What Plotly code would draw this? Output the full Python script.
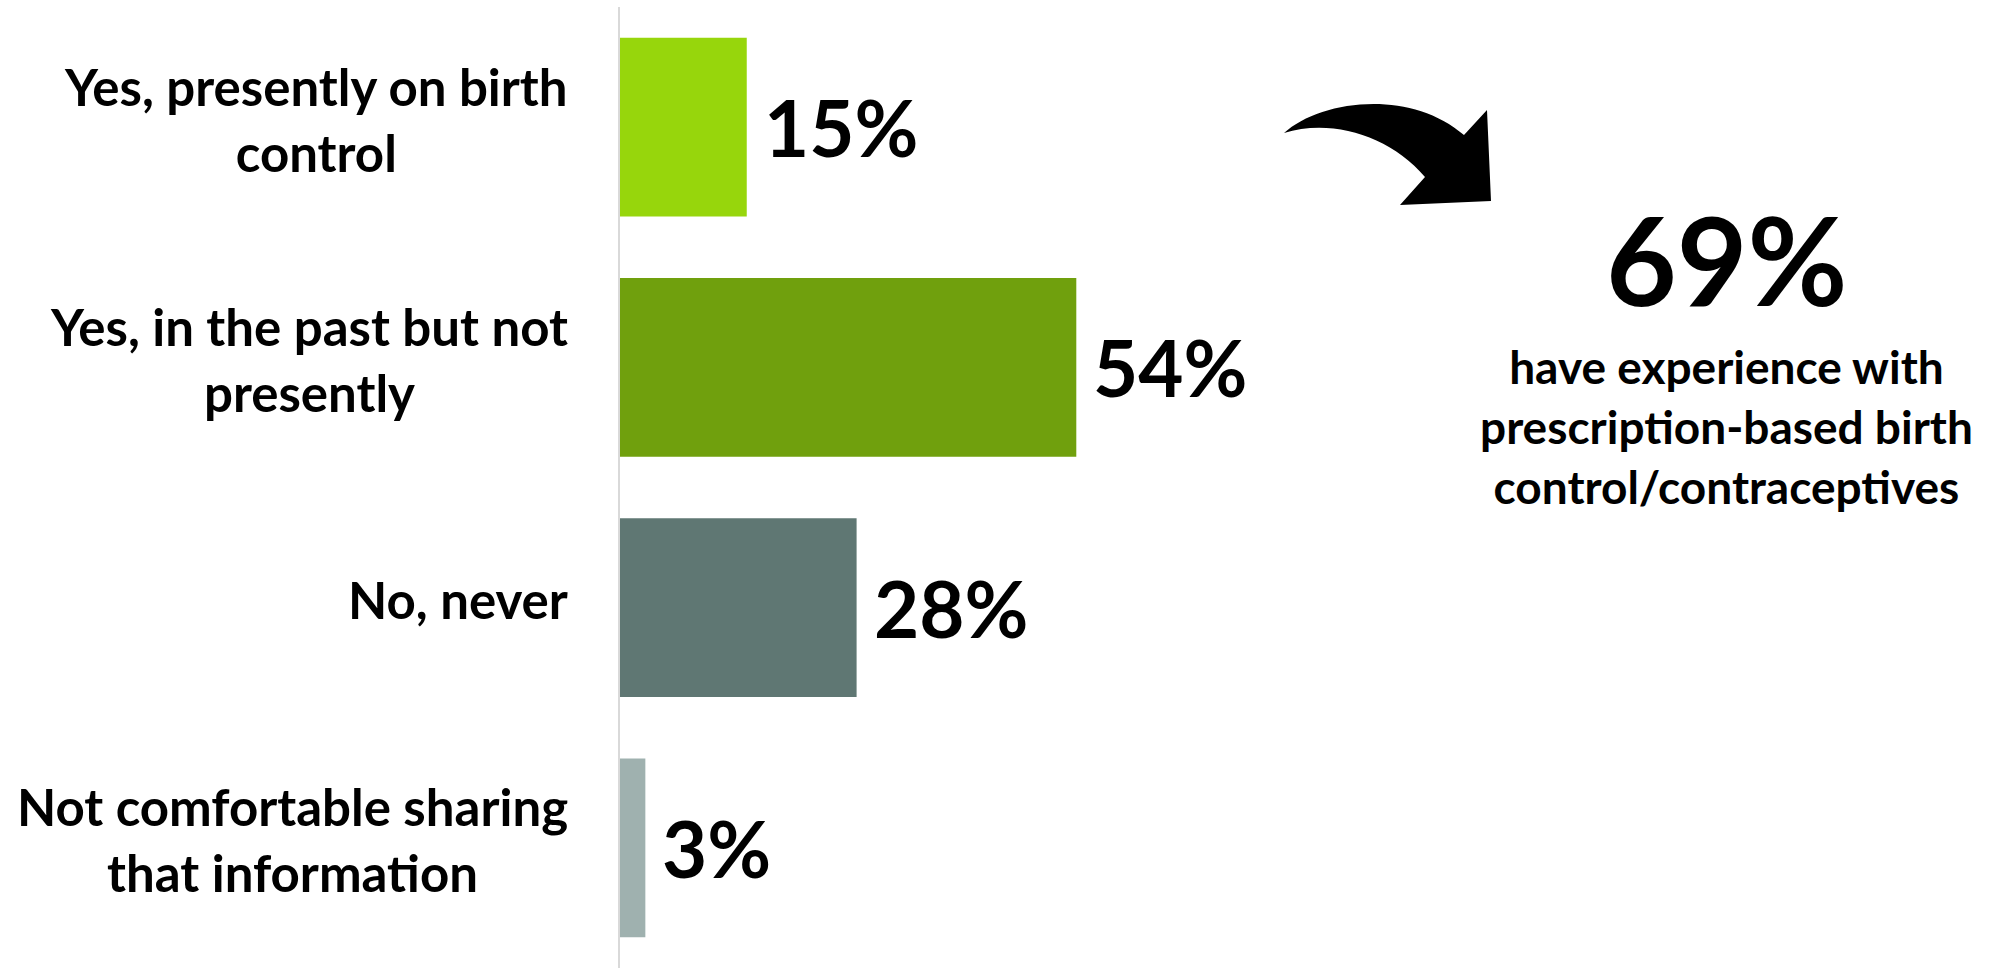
import plotly.graph_objects as go

# ---- data ----
categories = ["Yes, presently on birth control", "Yes, in the past but not presently",
              "No, never", "Not comfortable sharing that information"]
tick_labels = ["Yes, presently on birth<br>control", "Yes, in the past but not<br>presently",
               "No, never", "Not comfortable sharing<br>that information"]
values = [15, 54, 28, 3]
value_labels = ["15%", "54%", "28%", "3%"]
bar_colors = ["#97D60C", "#70A00D", "#5F7773", "#9FB1AF"]
callout_value = "69%"
callout_lines = ["have experience with", "prescription-based birth", "control/contraceptives"]

W, H = 2013, 968
ML, MR, MT, MB = 620, 0, 7, 0
PW, PH = W - ML - MR, H - MT - MB
PX_PER_PCT = 8.45
FONT = "Lato"
WEIGHT = 700


def px(x):
    return (x - ML) / PW


def py(y):
    return 1 - (y - MT) / PH


fig = go.Figure()
fig.add_trace(go.Bar(
    y=categories, x=values, orientation="h",
    marker=dict(color=bar_colors, line=dict(width=0)),
    hoverinfo="skip", showlegend=False,
))

annotations = []
# category labels
for cat, lab in zip(categories, tick_labels):
    annotations.append(dict(
        x=px(570), xref="paper", y=cat, yref="y", text=lab, showarrow=False,
        xanchor="right", yanchor="middle", align="center", yshift=8,
        font=dict(family=FONT, size=51, color="#000000", weight=WEIGHT),
    ))
# value labels
for cat, v, lab in zip(categories, values, value_labels):
    annotations.append(dict(
        x=v, xref="x", y=cat, yref="y", text=lab, showarrow=False,
        xanchor="left", yanchor="middle", xshift=15,
        font=dict(family=FONT, size=78, color="#000000", weight=WEIGHT),
    ))
# callout
annotations.append(dict(
    x=px(1727), xref="paper", y=py(259), yref="paper", text=callout_value, showarrow=False,
    xanchor="center", yanchor="middle",
    font=dict(family=FONT, size=122, color="#000000", weight=WEIGHT),
))
annotations.append(dict(
    x=px(1726), xref="paper", y=py(426), yref="paper", text="<br>".join(callout_lines),
    showarrow=False, xanchor="center", yanchor="middle", align="center",
    font=dict(family=FONT, size=46, color="#000000", weight=WEIGHT),
))


def P(x, y):
    return f"{px(x):.5f},{py(y):.5f}"


arrow_path = (
    f"M {P(1284,133)} C {P(1320,100)} {P(1410,88)} {P(1464,135)} "
    f"L {P(1487,110)} L {P(1491,201)} L {P(1400,205)} L {P(1425,177)} "
    f"C {P(1390,135)} {P(1330,118)} {P(1284,133)} Z"
)

fig.update_layout(
    width=W, height=H,
    margin=dict(l=ML, r=MR, t=MT, b=MB, pad=0),
    paper_bgcolor="#ffffff", plot_bgcolor="#ffffff",
    bargap=0.256,
    xaxis=dict(range=[0, PW / PX_PER_PCT], showgrid=False, zeroline=False,
               showticklabels=False, showline=False, ticks=""),
    yaxis=dict(categoryorder="array", categoryarray=categories, range=[3.5, -0.5],
               showgrid=False, zeroline=False, showticklabels=False, ticks="",
               showline=True, linecolor="#D9D9D9", linewidth=2),
    annotations=annotations,
    shapes=[dict(type="path", xref="paper", yref="paper", path=arrow_path,
                 fillcolor="#000000", line=dict(width=0))],
    showlegend=False,
)

fig.write_html("out.html")
